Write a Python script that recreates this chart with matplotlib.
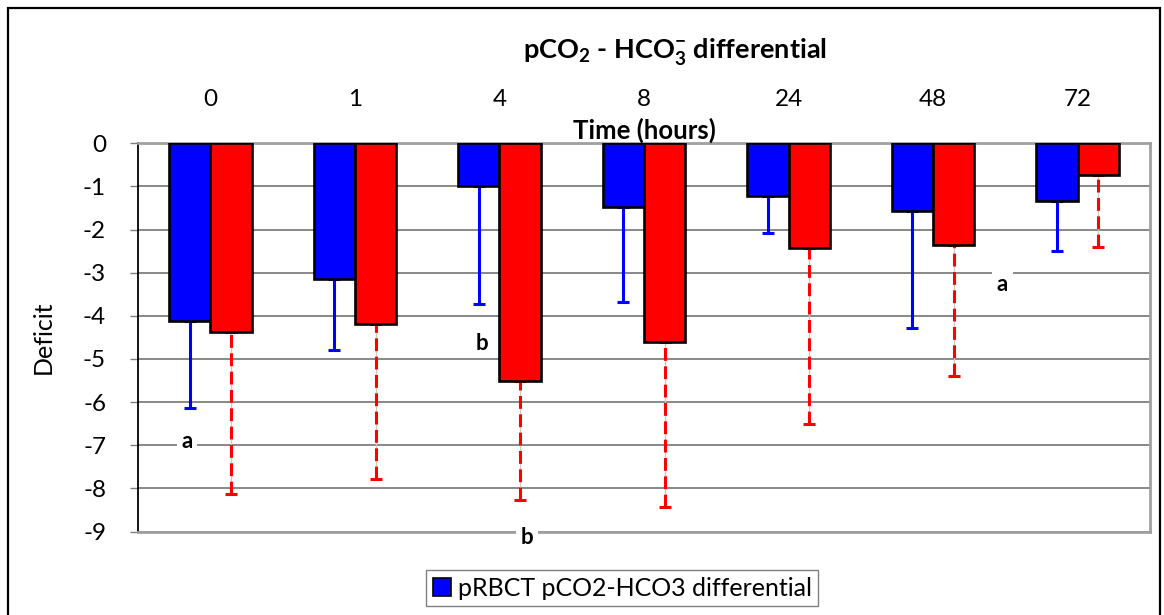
import numpy as np
import matplotlib
matplotlib.use('Agg')
import matplotlib.pyplot as plt
from matplotlib.patches import Patch, Rectangle

plt.rcParams['font.family'] = ['Lato', 'DejaVu Sans']
plt.rcParams['mathtext.fontset'] = 'custom'
plt.rcParams['mathtext.rm'] = 'Lato'
plt.rcParams['mathtext.bf'] = 'Lato:bold'

# 시간별 데이터
hours = ['0', '1', '4', '8', '24', '48', '72']
blue_mean = [-4.12, -3.15, -1.00, -1.48, -1.22, -1.56, -1.34]
blue_sd = [2.01, 1.65, 2.73, 2.21, 0.87, 2.72, 1.15]
red_mean = [-4.37, -4.19, -5.50, -4.61, -2.43, -2.36, -0.74]
red_sd = [3.76, 3.59, 2.77, 3.83, 4.08, 3.03, 1.67]

# 유의성 표시 문자 (x, y, 글자)
marks = [(-0.16, -6.92, 'a'), (1.88, -4.63, 'b'), (2.19, -9.15, 'b'), (5.48, -3.28, 'a')]

fig = plt.figure(figsize=(11.64, 6.15), dpi=100)
ax = fig.add_axes([138 / 1164, 1 - 531.5 / 615, (1150 - 138) / 1164, (531.5 - 143.3) / 615])

x = np.arange(len(hours))
w = 1 / 3.5

ax.bar(x - w / 2, blue_mean, w, color='#0000ff', edgecolor='black', linewidth=1.9, zorder=3)
ax.bar(x + w / 2, red_mean, w, color='#ff0000', edgecolor='black', linewidth=1.9, zorder=3)

# 에러바 (아래쪽만)
zeros = np.zeros(len(hours))
ax.errorbar(x - w / 2, blue_mean, yerr=[blue_sd, zeros], fmt='none', ecolor='#0000ff',
            elinewidth=2.2, capsize=4.5, capthick=2.2, zorder=2)
ax.vlines(x + w / 2, np.array(red_mean) - np.array(red_sd), red_mean,
          colors='#c8c8c8', linewidth=0.9, zorder=2)
eb = ax.errorbar(x + w / 2, red_mean, yerr=[red_sd, zeros], fmt='none', ecolor='#ff0000',
                 elinewidth=2.2, capsize=4.5, capthick=2.2, zorder=2)
eb[2][0].set_linestyle((0, (4.2, 1.8)))

for mx, my, t in marks:
    ax.text(mx, my, t, ha='center', va='center', fontsize=16, fontweight='bold',
            bbox=dict(boxstyle='square,pad=0.2', fc='white', ec='none'),
            zorder=4, clip_on=False)

ax.set_xlim(-0.5, len(hours) - 0.5)
ax.set_ylim(-9, 0)
ax.set_yticks(range(-9, 1))
ax.set_yticklabels([str(v) for v in range(-9, 1)], fontsize=17.5)
ax.yaxis.grid(True, color='#7f7f7f', linewidth=1.3, zorder=0)
ax.set_axisbelow(True)
ax.tick_params(axis='y', length=6, width=1, color='#7f7f7f', pad=17)

ax.xaxis.tick_top()
ax.set_xticks(x)
ax.set_xticklabels(hours, fontsize=17.5)
ax.tick_params(axis='x', length=0, pad=24)
ax.text(0.5, 1.034, 'Time (hours)', transform=ax.transAxes, ha='center', va='center',
        fontsize=18.5, fontweight='bold')
ax.set_ylabel('Deficit', fontsize=18, labelpad=20)

for s in ['top', 'right', 'bottom']:
    ax.spines[s].set_color('#a0a0a0')
    ax.spines[s].set_linewidth(2)
ax.spines['left'].set_color('black')
ax.spines['left'].set_linewidth(1.3)

fig.text(675 / 1164, 1 - 52 / 615, r'pCO$_\mathbf{2}$ - HCO$_\mathbf{3}^\mathbf{-}$ differential',
         ha='center', va='center', fontsize=19.5, fontweight='bold')

leg = fig.legend(handles=[Patch(facecolor='#0000ff', edgecolor='black', linewidth=1.2,
                                label='pRBCT pCO2-HCO3 differential')],
                 loc='center', bbox_to_anchor=(622 / 1164, 1 - 588 / 615), fontsize=18,
                 fancybox=False, edgecolor='#808080', framealpha=1,
                 handlelength=0.75, handleheight=0.75, handletextpad=0.25, borderpad=0.25)
leg.get_frame().set_linewidth(1)

# 바깥 테두리
fig.patches.append(Rectangle((8 / 1164, -0.1), 1152 / 1164, 1.1 - 8 / 615, transform=fig.transFigure,
                             fill=False, edgecolor='black', linewidth=1.6, clip_on=False))

fig.savefig('out.png', dpi=100)
